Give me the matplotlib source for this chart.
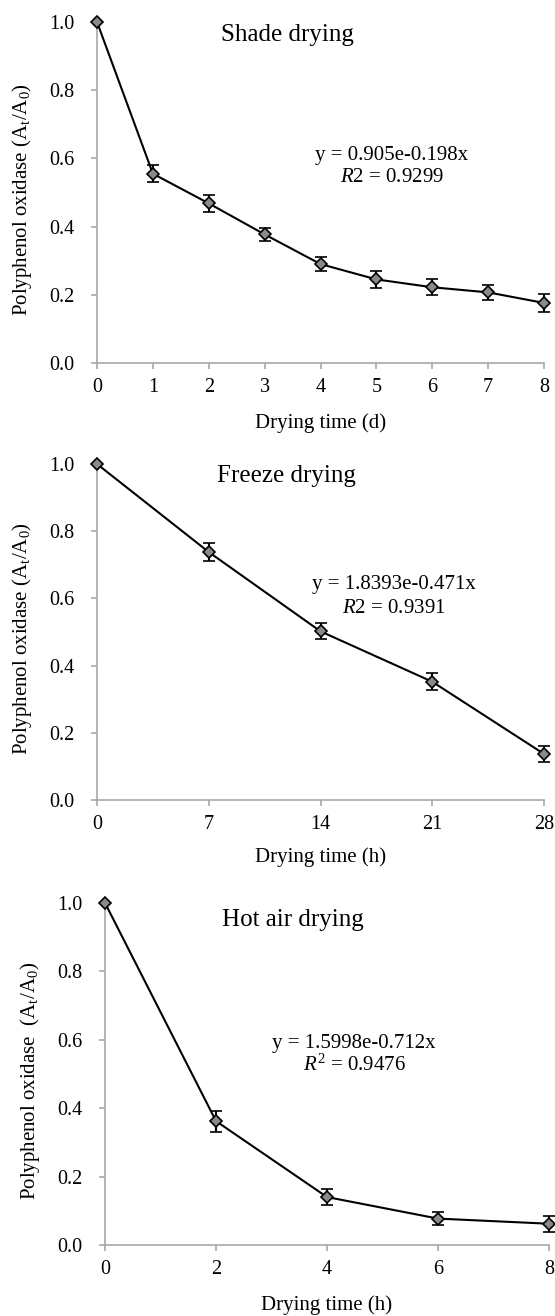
import matplotlib
matplotlib.use("Agg")
import matplotlib.pyplot as plt

plt.rcParams['font.family'] = ['Liberation Serif', 'DejaVu Serif']
plt.rcParams['mathtext.fontset'] = 'custom'
plt.rcParams['mathtext.rm'] = 'Liberation Serif'
plt.rcParams['mathtext.it'] = 'Liberation Serif:italic'

# shade drying (days)
shade_x = [0, 1, 2, 3, 4, 5, 6, 7, 8]
shade_y = [1.0, 0.555, 0.468, 0.377, 0.290, 0.245, 0.222, 0.207, 0.176]
shade_err = [0.0, 0.025, 0.024, 0.018, 0.021, 0.024, 0.024, 0.022, 0.027]

# freeze drying (hours)
freeze_x = [0, 7, 14, 21, 28]
freeze_y = [1.0, 0.738, 0.502, 0.352, 0.137]
freeze_err = [0.0, 0.028, 0.024, 0.025, 0.025]

# hot air drying (hours)
hot_x = [0, 2, 4, 6, 8]
hot_y = [1.0, 0.362, 0.140, 0.077, 0.062]
hot_err = [0.0, 0.031, 0.024, 0.018, 0.023]

ylab = 'Polyphenol oxidase (A$_\\mathregular{t}$/A$_\\mathregular{0}$)'
ylab3 = 'Polyphenol oxidase  (A$_\\mathregular{t}$/A$_\\mathregular{0}$)'

fig = plt.figure(figsize=(5.55, 13.16), dpi=100)

panels = [
    ([0.1748, 0.7242, 0.8054, 0.2591], shade_x, shade_y, shade_err, 'Shade drying',
     (0.427, 0.962), 'y = 0.905e-0.198x', '$\\mathit{R}$2 = 0.9299', (0.66, 0.607), (0.66, 0.543),
     'Drying time (d)', ylab, -0.176),
    ([0.1748, 0.3921, 0.8054, 0.2553], freeze_x, freeze_y, freeze_err, 'Freeze drying',
     (0.423, 0.964), 'y = 1.8393e-0.471x', '$\\mathit{R}$2 = 0.9391', (0.664, 0.64), (0.664, 0.571),
     'Drying time (h)', ylab, -0.17),
    ([0.1892, 0.0540, 0.8, 0.2599], hot_x, hot_y, hot_err, 'Hot air drying',
     (0.423, 0.95), 'y = 1.5998e-0.712x', '$\\mathit{R}^\\mathregular{2}$ = 0.9476', (0.561, 0.59), (0.561, 0.526),
     'Drying time (h)', ylab3, -0.175),
]

for pos, x, y, err, title, tpos, eq, r2, eqpos, r2pos, xlab, yl, xly in panels:
    ax = fig.add_axes(pos)
    ax.errorbar(x, y, yerr=err, color='black', lw=1.5, elinewidth=1.5, capsize=4, capthick=1.5,
                marker='D', markersize=6.5, markerfacecolor='#8a8a8a', markeredgecolor='black',
                markeredgewidth=1.2, clip_on=False, zorder=3)
    ax.set_xlim(x[0], x[-1])
    ax.set_ylim(0, 1.0)
    ax.set_xticks(x)
    ax.set_yticks([0.0, 0.2, 0.4, 0.6, 0.8, 1.0])
    ax.set_yticklabels(['0.0', '0.2', '0.4', '0.6', '0.8', '1.0'])
    for s in ['top', 'right']:
        ax.spines[s].set_visible(False)
    for s in ['left', 'bottom']:
        ax.spines[s].set_color('#a8a8a8')
        ax.spines[s].set_linewidth(1.2)
    ax.tick_params(direction='out', length=4, color='#a8a8a8', width=1.2, labelsize=14.5)
    ax.tick_params(axis='x', pad=7)
    ax.tick_params(axis='y', pad=12)
    ax.set_xlabel(xlab, fontsize=15)
    ax.xaxis.set_label_coords(0.5, xly)
    ax.xaxis.label.set_va('center')
    ax.set_ylabel(yl, fontsize=15)
    ax.yaxis.set_label_coords(-0.168, 0.48)
    ax.yaxis.label.set_va('center')
    ax.text(tpos[0], tpos[1], title, transform=ax.transAxes, ha='center', va='center', fontsize=18)
    ax.text(eqpos[0], eqpos[1], eq, transform=ax.transAxes, ha='center', va='center', fontsize=15)
    ax.text(r2pos[0], r2pos[1], r2, transform=ax.transAxes, ha='center', va='center', fontsize=15)

fig.savefig('out.png', dpi=100)
